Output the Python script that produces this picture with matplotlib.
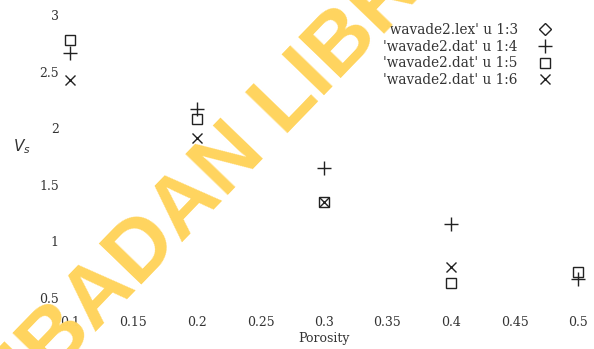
import matplotlib
matplotlib.use('Agg')
import matplotlib.pyplot as plt
import numpy as np

# porosity vs shear velocity, three columns of wavade2.dat
porosity = [0.1, 0.2, 0.3, 0.4, 0.5]
vs_col4 = [2.66, 2.17, 1.65, 1.15, 0.67]      # '+'
vs_col5 = [2.78, 2.08, 1.35, 0.63, 0.73]      # square
vs_col6 = [2.43, 1.91, 1.35, 0.77, np.nan]    # 'x'
lex_x = []                                    # wavade2.lex u 1:3 (nothing in range)
lex_y = []

labels = ["'wavade2.lex' u 1:3", "'wavade2.dat' u 1:4",
          "'wavade2.dat' u 1:5", "'wavade2.dat' u 1:6"]
xticks = [0.1, 0.15, 0.2, 0.25, 0.3, 0.35, 0.4, 0.45, 0.5]
yticks = [0.5, 1, 1.5, 2, 2.5, 3]

plt.rcParams['font.family'] = ['DejaVu Serif']
plt.rcParams['font.size'] = 9

fig = plt.figure(figsize=(5.94, 3.49), dpi=100)
ax = fig.add_axes([70/594, 1-298/349, 508/594, 283/349])

kw = dict(ls='none', mec='#222', mew=1.0, clip_on=False)
ax.plot(lex_x, lex_y, marker='D', ms=6, mfc='none', label=labels[0], **kw)
ax.plot(porosity, vs_col4, marker='+', ms=10, label=labels[1], **kw)
ax.plot(porosity, vs_col5, marker='s', ms=7.5, mfc='none', label=labels[2], **kw)
ax.plot(porosity, vs_col6, marker='x', ms=6.5, label=labels[3], **kw)

ax.set_xlim(0.1, 0.5)
ax.set_ylim(0.5, 3)
for s in ax.spines.values():
    s.set_visible(False)

ax.set_xticks(xticks)
ax.set_xticklabels([f'{t:g}' for t in xticks])
ax.set_yticks(yticks)
ax.set_yticklabels([f'{t:g}' for t in yticks])
ax.tick_params(axis='both', length=0, colors='#333')
ax.tick_params(axis='x', pad=13)
ax.tick_params(axis='y', pad=8)
# only the odd x ticks survived on the page
ax.set_xticks([0.15, 0.25, 0.35, 0.45], minor=True)
ax.tick_params(axis='x', which='minor', direction='in', length=5, top=True, bottom=True, color='#555', width=0.8)

ax.set_xlabel('Porosity', color='#333', labelpad=2)
ax.set_ylabel('$V_s$', color='#333', rotation=0, fontsize=11)
ax.yaxis.set_label_coords(-0.095, 0.5)

ax.legend(loc='upper right', bbox_to_anchor=(0.975, 1.015), frameon=False, markerfirst=False,
          handlelength=1.2, handletextpad=1.4, labelspacing=0.2, labelcolor='#333', fontsize=9.8)

# library stamp across the page
fig.text(0.463, 0.675, 'IBADAN LIBRARY', rotation=46, ha='center', va='center',
         fontsize=62, family='Liberation Sans', weight='bold', color='#FFD45E', zorder=10)

fig.savefig('out.png', dpi=100)
